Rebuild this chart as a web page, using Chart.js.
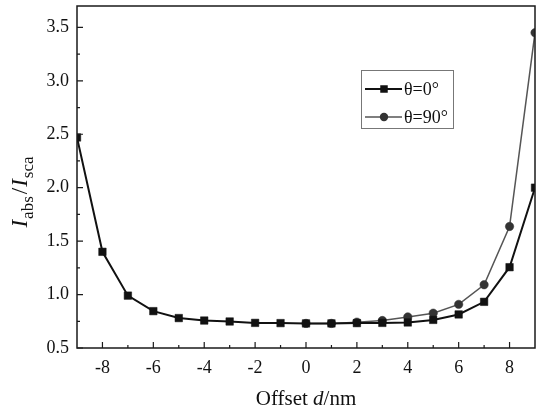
<!DOCTYPE html>
<html><head><meta charset="utf-8">
<script src="https://cdn.jsdelivr.net/npm/chart.js@4/dist/chart.umd.min.js"></script>
<style>html,body{margin:0;padding:0;background:#fff}#wrap{width:545px;height:417px}</style>
</head><body><div id="wrap"><canvas id="c" width="545" height="417"></canvas></div>
<script>
// ---- data ----
const offsets = [-9,-8,-7,-6,-5,-4,-3,-2,-1,0,1,2,3,4,5,6,7,8,9];
const ratioTheta0 = [2.47,1.40,0.99,0.845,0.78,0.757,0.748,0.735,0.733,0.73,0.73,0.733,0.735,0.739,0.763,0.814,0.932,1.256,2.0];
const offsetsTheta90 = [0,1,2,3,4,5,6,7,8,9];
const ratioTheta90 = [0.73,0.73,0.742,0.757,0.791,0.826,0.908,1.092,1.637,3.45];
const seriesLabels = ['θ=0°','θ=90°'];
const xTickValues = [-8,-6,-4,-2,0,2,4,6,8];
const xTickLabels = ['-8','-6','-4','-2','0','2','4','6','8'];
const xMinorValues = [-7,-5,-3,-1,1,3,5,7];
const yTickValues = [0.5,1.0,1.5,2.0,2.5,3.0,3.5];
const yTickLabels = ['0.5','1.0','1.5','2.0','2.5','3.0','3.5'];
const yMinorValues = [0.75,1.25,1.75,2.25,2.75,3.25];

const SERIF = '"Liberation Serif","Times New Roman",serif';

const framePlugin = {
  id: 'frame',
  afterDatasetsDraw(chart) {
    const {ctx, chartArea: a, scales} = chart;
    ctx.save();
    ctx.strokeStyle = '#1a1a1a';
    ctx.lineWidth = 1.5;
    ctx.strokeRect(a.left, a.top, a.right - a.left, a.bottom - a.top);
    ctx.lineWidth = 1.2;
    ctx.beginPath();
    xTickValues.forEach(v => { const px = scales.x.getPixelForValue(v); ctx.moveTo(px, a.bottom); ctx.lineTo(px, a.bottom - 6); });
    xMinorValues.forEach(v => { const px = scales.x.getPixelForValue(v); ctx.moveTo(px, a.bottom); ctx.lineTo(px, a.bottom - 3); });
    yTickValues.forEach(v => { const py = scales.y.getPixelForValue(v); ctx.moveTo(a.left, py); ctx.lineTo(a.left + 6, py); });
    yMinorValues.forEach(v => { const py = scales.y.getPixelForValue(v); ctx.moveTo(a.left, py); ctx.lineTo(a.left + 3, py); });
    ctx.stroke();
    ctx.restore();
  }
};

const legendPlugin = {
  id: 'boxLegend',
  afterDraw(chart) {
    const ctx = chart.ctx;
    const x0 = 361, y0 = 70, w = 92, h = 58;
    ctx.save();
    ctx.fillStyle = '#fff';
    ctx.fillRect(x0, y0, w, h);
    ctx.strokeStyle = '#777';
    ctx.lineWidth = 1;
    ctx.strokeRect(x0 + 0.5, y0 + 0.5, w, h);
    const rows = [89, 117];
    chart.data.datasets.forEach((ds, i) => {
      const y = rows[i];
      ctx.strokeStyle = ds.borderColor;
      ctx.lineWidth = ds.borderWidth;
      ctx.beginPath(); ctx.moveTo(365, y); ctx.lineTo(402, y); ctx.stroke();
      ctx.fillStyle = ds.pointBackgroundColor;
      ctx.beginPath();
      if (ds.pointStyle === 'rect') { const s = ds.pointRadius * Math.SQRT1_2; ctx.rect(384 - s, y - s, 2*s, 2*s); }
      else { ctx.arc(384, y, ds.pointRadius, 0, Math.PI * 2); }
      ctx.fill();
      ctx.fillStyle = '#111';
      ctx.font = '18px ' + SERIF;
      ctx.textBaseline = 'middle';
      ctx.fillText(ds.label, 404, y + 1);
    });
    ctx.restore();
  }
};

const titlePlugin = {
  id: 'axisTitles',
  afterDraw(chart) {
    const ctx = chart.ctx;
    const a = chart.chartArea;
    ctx.save();
    ctx.fillStyle = '#111';
    ctx.textBaseline = 'alphabetic';
    // x title: Offset d/nm
    const parts = [['Offset ', '21px ' + SERIF], ['d', 'italic 21px ' + SERIF], ['/nm', '21px ' + SERIF]];
    let tw = 0;
    parts.forEach(p => { ctx.font = p[1]; tw += ctx.measureText(p[0]).width; });
    let x = (a.left + a.right) / 2 - tw / 2;
    parts.forEach(p => { ctx.font = p[1]; ctx.fillText(p[0], x, 405); x += ctx.measureText(p[0]).width; });
    // y title: I_abs / I_sca (rotated)
    ctx.translate(27, 192);
    ctx.rotate(-Math.PI / 2);
    const yparts = [['I', 'italic 23px ' + SERIF, 0, 1], ['abs', '17px ' + SERIF, 6, 2], ['/', '23px ' + SERIF, 0, 1], ['I', 'italic 23px ' + SERIF, 0, 1], ['sca', '17px ' + SERIF, 6, 0]];
    tw = 0;
    yparts.forEach(p => { ctx.font = p[1]; tw += ctx.measureText(p[0]).width + p[3]; });
    x = -tw / 2;
    yparts.forEach(p => { ctx.font = p[1]; ctx.fillText(p[0], x, p[2]); x += ctx.measureText(p[0]).width + p[3]; });
    ctx.restore();
  }
};

new Chart(document.getElementById('c'), {
  type: 'line',
  data: {
    datasets: [
      {
        label: seriesLabels[0],
        data: offsets.map((v, i) => ({x: v, y: ratioTheta0[i]})),
        borderColor: '#111', borderWidth: 2,
        pointStyle: 'rect', pointRadius: 5.3, pointHoverRadius: 5.3,
        pointBackgroundColor: '#111', pointBorderColor: '#111', pointBorderWidth: 0.5,
        tension: 0
      },
      {
        label: seriesLabels[1],
        data: offsetsTheta90.map((v, i) => ({x: v, y: ratioTheta90[i]})),
        borderColor: '#555', borderWidth: 1.5,
        pointStyle: 'circle', pointRadius: 4.2, pointHoverRadius: 4.2,
        pointBackgroundColor: '#333', pointBorderColor: '#333', pointBorderWidth: 0.5,
        tension: 0
      }
    ]
  },
  options: {
    responsive: false,
    animation: false,
    devicePixelRatio: 1,
    layout: {padding: {top: 6, right: 10, left: 0, bottom: 0}},
    plugins: {legend: {display: false}, tooltip: {enabled: false}},
    scales: {
      x: {
        type: 'linear', min: -9, max: 9,
        grid: {display: false, drawTicks: false},
        border: {display: false},
        afterBuildTicks: s => { s.ticks = xTickValues.map(v => ({value: v})); },
        afterFit: s => { s.height = 69; s.paddingLeft = 0; s.paddingRight = 0; },
        ticks: {color: '#111', font: {family: SERIF, size: 18}, padding: 9, maxRotation: 0,
          callback: (v, i) => xTickLabels[i]}
      },
      y: {
        type: 'linear', min: 0.5, max: 3.7,
        grid: {display: false, drawTicks: false},
        border: {display: false},
        afterBuildTicks: s => { s.ticks = yTickValues.map(v => ({value: v})); },
        afterFit: s => { s.width = 77; s.paddingTop = 0; s.paddingBottom = 0; },
        ticks: {color: '#111', font: {family: SERIF, size: 18}, padding: 8,
          callback: (v, i) => yTickLabels[i]}
      }
    }
  },
  plugins: [framePlugin, legendPlugin, titlePlugin]
});
</script></body></html>
